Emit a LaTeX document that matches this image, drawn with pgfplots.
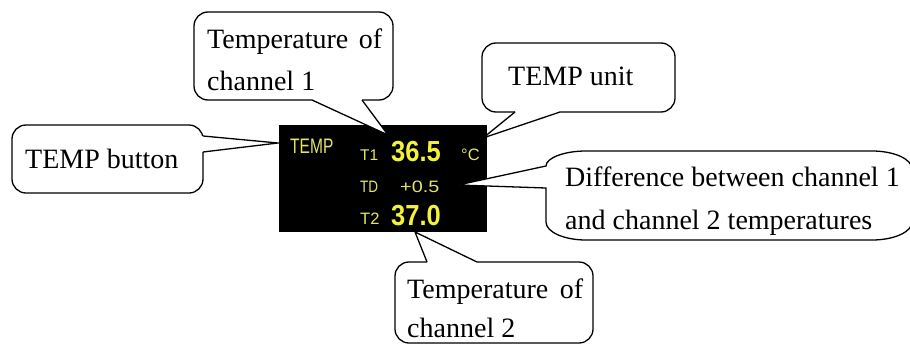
\documentclass[border=0pt]{standalone}
\usepackage{fontspec}
\setmainfont{Liberation Serif}
\newfontfamily\lcd{Liberation Sans}
\usepackage{pgfplots}
\pgfplotsset{compat=1.18}
\definecolor{lcdY}{HTML}{F2F23A}
\definecolor{lcdL}{HTML}{E4E46A}
\newcommand{\cfont}{\fontsize{28bp}{34bp}\selectfont}
\begin{document}
\begin{tikzpicture}
\begin{axis}[width=910bp,height=345bp,scale only axis,
  xmin=0,xmax=910,ymin=0,ymax=345,y dir=reverse,hide axis,clip=true]
\path (0,0) rectangle (910,345);
% LCD panel
\fill[black] (279,125) rectangle (487,232);
\begin{scope}[every node/.style={anchor=base west,inner sep=0}]
\node[text=lcdL,font=\lcd\fontsize{21bp}{21bp}\selectfont] at (290,153) {\scalebox{0.74}[1]{TEMP}};
\node[text=lcdL,font=\lcd\fontsize{15.5bp}{16bp}\selectfont] at (360,160) {T1};
\node[text=lcdY,font=\lcd\bfseries\fontsize{29bp}{29bp}\selectfont] at (391,161) {\scalebox{0.88}[1]{36.5}};
\node[text=lcdL,font=\lcd\fontsize{16.5bp}{17bp}\selectfont] at (461,160) {°C};
\node[text=lcdL,font=\lcd\fontsize{16.5bp}{17bp}\selectfont] at (360,192) {\scalebox{0.82}[1]{TD}};
\node[text=lcdL,font=\lcd\fontsize{16.5bp}{17bp}\selectfont] at (400,192) {\scalebox{1.2}[1]{+0.5}};
\node[text=lcdL,font=\lcd\fontsize{16.5bp}{17bp}\selectfont] at (360,224) {T2};
\node[text=lcdY,font=\lcd\bfseries\fontsize{29bp}{29bp}\selectfont] at (391,225) {\scalebox{0.88}[1]{37.0}};
\end{scope}
% callouts
\begin{scope}[line width=1.3bp]
% Temperature of channel 1
\draw[fill=white,rounded corners=14bp] (194,12) rectangle (393,100);
\fill[white] (313,98) -- (312,100) -- (388,135) -- (362,100) -- (361,98) -- cycle;
\draw (312,100) -- (388,135) -- (362,100);
% TEMP button
\draw[fill=white,rounded corners=14bp] (12,125) rectangle (203,193);
\fill[white] (200,137) -- (203,136) -- (278,143) -- (203,152) -- (200,151) -- cycle;
\draw (203,136) -- (278,143) -- (203,152);
% TEMP unit
\draw[fill=white,rounded corners=14bp] (482,43) rectangle (675,112);
\fill[white] (516,110) -- (515,112) -- (483,138) -- (560,112) -- (559,110) -- cycle;
\draw (515,112) -- (483,138) -- (560,112);
% Temperature of channel 2
\draw[fill=white,rounded corners=14bp] (395,262) rectangle (593,343);
\fill[white] (428,264) -- (427,262) -- (415,232) -- (477,262) -- (476,264) -- cycle;
\draw (427,262) -- (415,232) -- (477,262);
% Difference
\draw[fill=white] (546,166) -- (458,185) -- (546,188) -- (546,222)
  .. controls (546,232) and (564,240) .. (586,240) -- (872,240)
  .. controls (894,240) and (912,232) .. (912,222) -- (912,169)
  .. controls (912,159) and (894,151) .. (872,151) -- (586,151)
  .. controls (564,151) and (546,158) .. cycle;
\end{scope}
\begin{scope}[every node/.style={anchor=base west,inner sep=0,font=\cfont}]
\node at (207,48) {\makebox[175bp][s]{Temperature of}};
\node at (207,90) {channel 1};
\node at (25,168) {TEMP button};
\node at (508,85) {TEMP unit};
\node at (565,186) {Difference between channel 1};
\node at (565,229) {and channel 2 temperatures};
\node at (407,298) {\makebox[176bp][s]{Temperature of}};
\node at (407,337) {channel 2};
\end{scope}
\end{axis}
\end{tikzpicture}
\end{document}
